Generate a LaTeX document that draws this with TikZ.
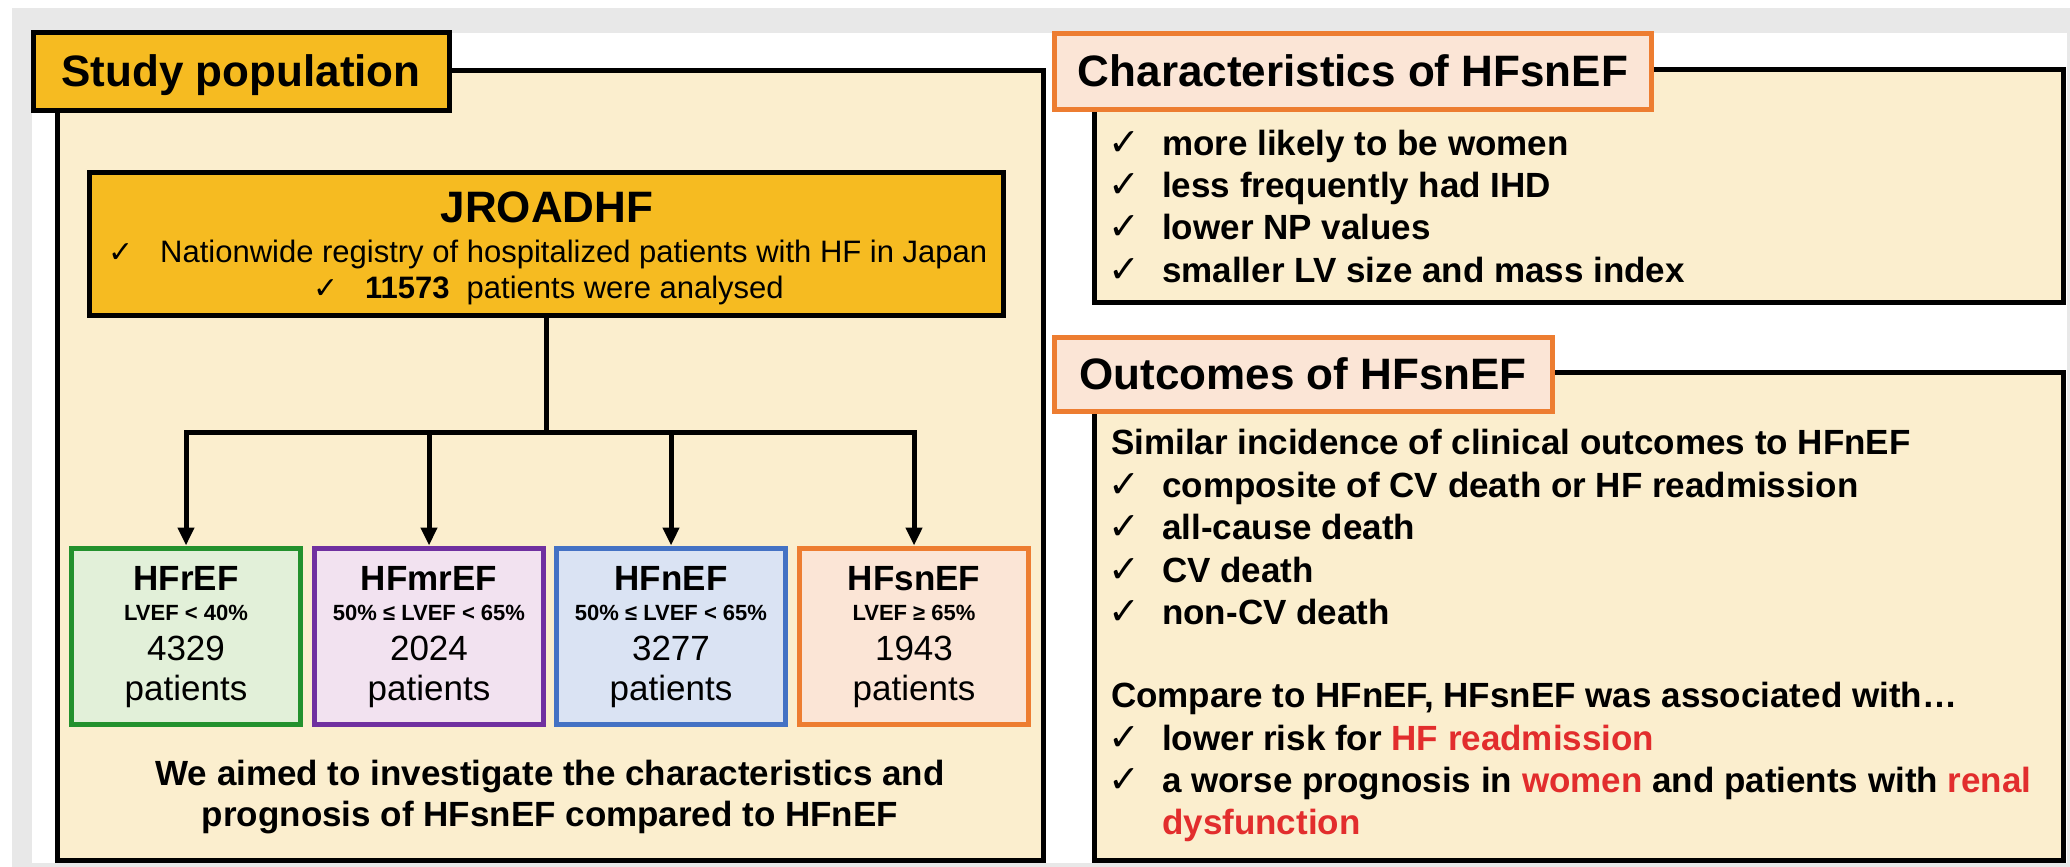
\documentclass[tikz,border=0pt]{standalone}
\usepackage{fontspec}
\setmainfont{Liberation Sans}
\newfontfamily\checkfont{DejaVu Sans}
\usetikzlibrary{arrows.meta}

\definecolor{gold}{RGB}{246,187,33}
\definecolor{cream}{RGB}{251,238,206}
\definecolor{bggray}{RGB}{232,232,232}
\definecolor{peach}{RGB}{251,229,214}
\definecolor{orangeline}{RGB}{237,125,49}
\definecolor{greenfill}{RGB}{226,240,217}
\definecolor{greenline}{RGB}{35,145,45}
\definecolor{lilacfill}{RGB}{242,226,240}
\definecolor{purpleline}{RGB}{112,48,160}
\definecolor{bluefill}{RGB}{218,227,243}
\definecolor{blueline}{RGB}{68,114,196}
\definecolor{alertred}{RGB}{226,45,45}

\tikzset{
  panel/.style={draw=black, line width=5pt, fill=cream, inner sep=0pt, outer sep=0pt, anchor=north west},
  headbox/.style={line width=5pt, inner sep=0pt, outer sep=0pt, text height=31pt, text depth=0pt,
    font=\fontsize{44}{50}\selectfont\bfseries},
  headgold/.style={headbox, draw=black, fill=gold},
  headpeach/.style={headbox, draw=orangeline, fill=peach},
  regbox/.style={draw=black, line width=5pt, fill=gold, inner sep=0pt},
  groupbox/.style={line width=5pt, inner sep=0pt, minimum width=229pt, minimum height=176pt},
  conn/.style={line width=5pt, draw=black},
  arrowline/.style={conn, -{Triangle[length=18pt,width=16pt]}},
  basec/.style={anchor=base, inner sep=0pt},
  basew/.style={anchor=base west, inner sep=0pt},
  bigname/.style={basec, font=\fontsize{44}{50}\selectfont\bfseries},
  regline/.style={basew, font=\fontsize{31}{36}\selectfont},
  smallcheck/.style={basew, font=\checkfont\fontsize{30}{34}\selectfont},
  rowcheck/.style={basew, font=\checkfont\fontsize{38}{42}\selectfont},
  grpname/.style={basec, font=\fontsize{35}{40}\selectfont\bfseries},
  grprange/.style={basec, font=\fontsize{22}{26}\selectfont\bfseries},
  grpcount/.style={basec, font=\fontsize{35}{40}\selectfont},
  aimtext/.style={basec, font=\fontsize{35}{40}\selectfont\bfseries},
  rowtext/.style={basew, font=\fontsize{35}{40}\selectfont\bfseries},
}

\begin{document}
\begin{tikzpicture}[x=1pt,y=-1pt]
\useasboundingbox (0,0) rectangle (2070,867);
% page frame
\fill[white] (0,0) rectangle (2070,867);
\fill[bggray] (12,8) rectangle (2070,867);
\fill[white] (32,33) rectangle (2067,863);

% ---------------- study population ----------------
\node[panel, minimum width=986pt, minimum height=789pt] (popframe) at (57,71) {};
\node[headgold, minimum width=416pt, minimum height=77pt] (poptitle) at (241,71.5) {Study population};

\node[regbox, minimum width=914pt, minimum height=143pt] (jroad) at (546,243.5) {};
\node[bigname] (jroadname) at (547,222) {JROADHF};
\node[smallcheck] (jcheck1) at (108,262) {✓};
\node[regline] (jline1) at (160,262) {Nationwide registry of hospitalized patients with HF in Japan};
\node[smallcheck] (jcheck2) at (313,298) {✓};
\node[regline] (jline2) at (365,298) {\textbf{11573}\hspace{17pt}patients were analysed};

% four subgroups
\node[groupbox, draw=greenline, fill=greenfill] (hfref) at (186,636) {};
\node[groupbox, draw=purpleline, fill=lilacfill] (hfmref) at (429,636) {};
\node[groupbox, draw=blueline, fill=bluefill] (hfnef) at (671,636) {};
\node[groupbox, draw=orangeline, fill=peach] (hfsnef) at (914,636) {};

\node[grpname] (refname) at (186,590) {HFrEF};
\node[grprange] (refrange) at (186,620) {LVEF < 40\%};
\node[grpcount] (refnum) at (186,660) {4329};
\node[grpcount] (refpat) at (186,700) {patients};

\node[grpname] (mrefname) at (429,590) {HFmrEF};
\node[grprange] (mrefrange) at (429,620) {50\% ≤ LVEF < 65\%};
\node[grpcount] (mrefnum) at (429,660) {2024};
\node[grpcount] (mrefpat) at (429,700) {patients};

\node[grpname] (nefname) at (671,590) {HFnEF};
\node[grprange] (nefrange) at (671,620) {50\% ≤ LVEF < 65\%};
\node[grpcount] (nefnum) at (671,660) {3277};
\node[grpcount] (nefpat) at (671,700) {patients};

\node[grpname] (snefname) at (914,590) {HFsnEF};
\node[grprange] (snefrange) at (914,620) {LVEF ≥ 65\%};
\node[grpcount] (snefnum) at (914,660) {1943};
\node[grpcount] (snefpat) at (914,700) {patients};

% split tree
\coordinate (split) at (546,432);
\draw[conn] (jroad.south) -- (split);
\draw[arrowline] (split) -| (hfref.north);
\draw[arrowline] (split) -| (hfmref.north);
\draw[arrowline] (split) -| (hfnef.north);
\draw[arrowline] (split) -| (hfsnef.north);

\node[aimtext] (aim1) at (550,785) {We aimed to investigate the characteristics and};
\node[aimtext] (aim2) at (550,826) {prognosis of HFsnEF compared to HFnEF};

% ---------------- characteristics ----------------
\node[panel, minimum width=969pt, minimum height=232pt] (charframe) at (1094,70) {};
\node[headpeach, minimum width=597pt, minimum height=75pt] (chartitle) at (1353,71.5) {Characteristics of HFsnEF};

\node[rowcheck] (cc1) at (1108,155) {✓};
\node[rowtext] (ct1) at (1162,155) {more likely to be women};
\node[rowcheck] (cc2) at (1108,197) {✓};
\node[rowtext] (ct2) at (1162,197) {less frequently had IHD};
\node[rowcheck] (cc3) at (1108,239) {✓};
\node[rowtext] (ct3) at (1162,239) {lower NP values};
\node[rowcheck] (cc4) at (1108,282) {✓};
\node[rowtext] (ct4) at (1162,282) {smaller LV size and mass index};

% ---------------- outcomes ----------------
\node[panel, minimum width=969pt, minimum height=488pt] (outframe) at (1094,372) {};
\node[headpeach, minimum width=498pt, minimum height=74pt] (outtitle) at (1303,374) {Outcomes of HFsnEF};

\node[rowtext] (oh1) at (1111,454) {Similar incidence of clinical outcomes to HFnEF};
\node[rowcheck] (oc1) at (1108,497) {✓};
\node[rowtext] (ot1) at (1162,497) {composite of CV death or HF readmission};
\node[rowcheck] (oc2) at (1108,539) {✓};
\node[rowtext] (ot2) at (1162,539) {all-cause death};
\node[rowcheck] (oc3) at (1108,582) {✓};
\node[rowtext] (ot3) at (1162,582) {CV death};
\node[rowcheck] (oc4) at (1108,624) {✓};
\node[rowtext] (ot4) at (1162,624) {non-CV death};

\node[rowtext] (oh2) at (1111,707) {Compare to HFnEF, HFsnEF was associated with…};
\node[rowcheck] (oc5) at (1108,750) {✓};
\node[rowtext] (ot5) at (1162,750) {lower risk for \textcolor{alertred}{HF readmission}};
\node[rowcheck] (oc6) at (1108,792) {✓};
\node[rowtext] (ot6) at (1162,792) {a worse prognosis in \textcolor{alertred}{women} and patients with \textcolor{alertred}{renal}};
\node[rowtext] (ot7) at (1162,834) {\textcolor{alertred}{dysfunction}};
\end{tikzpicture}
\end{document}
